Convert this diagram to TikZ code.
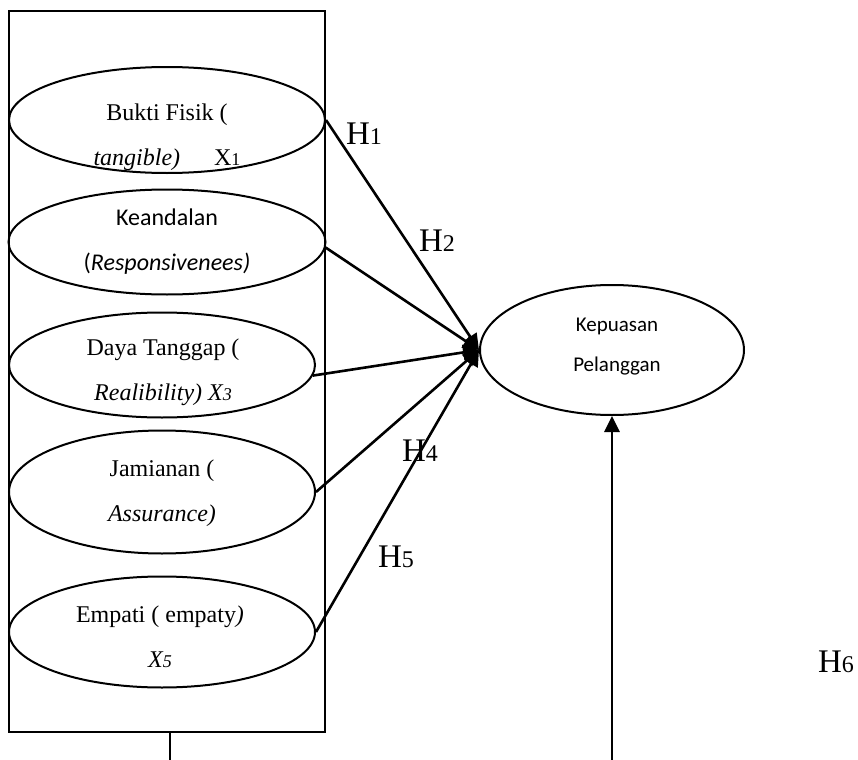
\documentclass[tikz,border=0pt]{standalone}
\usepackage{fontspec}
\setmainfont{Liberation Serif}
\newfontfamily\calibri{Carlito}
\usetikzlibrary{arrows.meta,shapes.geometric,positioning}
\newcommand{\hyp}[1]{H{\fontsize{12}{14}\selectfont #1}}
\newcommand{\idx}[1]{{\fontsize{9}{10}\selectfont #1}}

\begin{document}
\begin{tikzpicture}[x=0.5pt, y=-0.5pt, >={Triangle[length=8pt,width=7.5pt]},
    dim/.style={draw, ellipse, line width=1pt, inner sep=0pt},
    txt/.style={inner sep=0pt, align=center, font=\fontsize{12}{22.5}\selectfont},
    sanstxt/.style={inner sep=0pt, align=center, font=\calibri\fontsize{12}{22.5}\selectfont},
    conn/.style={->, line width=1.3pt},
    hlabel/.style={inner sep=0pt, font=\fontsize{16.5}{18}\selectfont}]
  \useasboundingbox (0,0) rectangle (858,760);
  % frame round the dimensions
  \node[draw, line width=1pt, minimum width=158pt, minimum height=360.5pt, inner sep=0pt] (frame) at (167,371.5) {};
  \coordinate (fb) at (170,760);
  \draw[line width=1pt] (frame.south -| fb) -- (fb);
  % dimensions
  \node[dim, minimum width=158pt, minimum height=53pt] (e1) at (167,120) {};
  \node[dim, minimum width=158.5pt, minimum height=52.5pt] (e2) at (167,242) {};
  \node[dim, minimum width=153pt, minimum height=52.5pt] (e3) at (162,365) {};
  \node[dim, minimum width=153pt, minimum height=61.5pt] (e4) at (162,492) {};
  \node[dim, minimum width=153pt, minimum height=55.5pt] (e5) at (162,632) {};
  \node[txt] (t1) at (167,137) {Bukti Fisik (\\\textit{tangible)}\hspace{17pt}X\idx{1}};
  \node[sanstxt] (t2) at (167,242) {Keandalan\\(\textit{Responsivenees)}};
  \node[txt] (t3) at (163,372) {Daya Tanggap (\\\textit{Realibility) X\idx{3}}};
  \node[txt] (t4) at (162,493) {Jamianan (\\\textit{Assurance)}};
  \node[txt] (t5) at (160,637) {Empati ( empaty\textit{)}\\\textit{X\idx{5}}};
  % customer satisfaction
  \node[dim, minimum width=132pt, minimum height=65pt] (k) at (612,350) {};
  \node[sanstxt, font=\calibri\fontsize{10.5}{20}\selectfont] (tk) at (617,347) {Kepuasan\\Pelanggan};
  % hypotheses
  \draw[conn] (e1.east) -- (k.west);
  \draw[conn] (e2.-2) -- (k.west);
  \draw[conn] (e3.-4) -- (k.west);
  \draw[conn] (e4.east) -- (k.west);
  \draw[conn] (e5.east) -- (k.west);
  \coordinate (kb) at (612,760);
  \draw[conn, line width=1.4pt] (kb) -- (k.south);
  \node[hlabel] (h1) at (364,134) {\hyp{1}};
  \node[hlabel] (h2) at (437,241) {\hyp{2}};
  \node[hlabel] (h4) at (420,451) {\hyp{4}};
  \node[hlabel] (h5) at (396,557) {\hyp{5}};
  \node[hlabel] (h6) at (836,662) {\hyp{6}};
\end{tikzpicture}
\end{document}
